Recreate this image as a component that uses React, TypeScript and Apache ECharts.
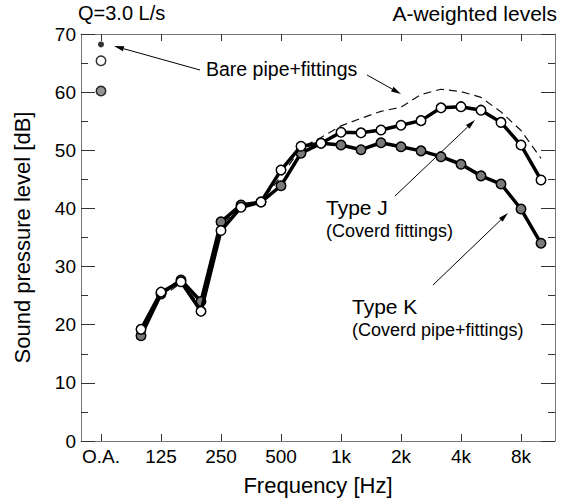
import React, { useEffect, useRef } from "react";
import * as echarts from "echarts";

// Frequency slots along the x axis (O.A. first, then 1/3-octave bands)
const bands = ["O.A.", "80", "100", "125", "160", "200", "250", "315", "400", "500", "630", "800", "1k", "1.25k", "1.6k", "2k", "2.5k", "3.15k", "4k", "5k", "6.3k", "8k", "10k"];
const spectrumBands = ["100", "125", "160", "200", "250", "315", "400", "500", "630", "800", "1k", "1.25k", "1.6k", "2k", "2.5k", "3.15k", "4k", "5k", "6.3k", "8k", "10k"];
const tickLabels = ["O.A.", "125", "250", "500", "1k", "2k", "4k", "8k"];

// Overall (O.A.) A-weighted levels [dB]
const oaBare = 68.2;
const oaTypeJ = 65.4;
const oaTypeK = 60.2;

// 1/3-octave band levels [dB]
const bareValues = [18.8, 24.7, 27.2, 23.2, 37.0, 40.5, 41.1, 45.5, 50.4, 52.2, 54.2, 55.5, 56.7, 57.4, 59.6, 60.5, 60.1, 59.1, 56.6, 53.4, 48.6];
const typeJValues = [19.2, 25.6, 27.4, 22.3, 36.2, 40.2, 41.1, 46.6, 50.7, 51.2, 53.1, 53.0, 53.5, 54.3, 55.1, 57.3, 57.5, 56.9, 54.8, 50.9, 44.9];
const typeKValues = [18.1, 25.3, 27.7, 24.0, 37.7, 40.6, 41.1, 43.9, 49.5, 51.2, 50.9, 50.1, 51.3, 50.6, 49.9, 48.9, 47.6, 45.6, 44.2, 39.9, 34.0];

const FONT = "'Liberation Sans', Arial, Helvetica, sans-serif";

function pairs(values: number[]) {
  return values.map((v, i) => [bands.indexOf(spectrumBands[i]), v]);
}

function arrow(x1: number, y1: number, x2: number, y2: number) {
  const a = Math.atan2(y2 - y1, x2 - x1);
  const L = 10;
  const W = 2.6;
  const bx = x2 - L * Math.cos(a);
  const by = y2 - L * Math.sin(a);
  return [
    { type: "line", shape: { x1, y1, x2: bx, y2: by }, style: { stroke: "#000", lineWidth: 1 }, silent: true },
    {
      type: "polygon",
      shape: { points: [[x2, y2], [bx - W * Math.sin(a), by + W * Math.cos(a)], [bx + W * Math.sin(a), by - W * Math.cos(a)]] },
      style: { fill: "#000" },
      silent: true,
    },
  ];
}

function label(text: string, x: number, y: number, size: number, align = "left") {
  return {
    type: "text",
    x,
    y,
    silent: true,
    style: { text, fontSize: size, fontFamily: FONT, fill: "#000", align, verticalAlign: "middle" },
  };
}

export default function App() {
  const ref = useRef<HTMLDivElement>(null);
  useEffect(() => {
    if (!ref.current) return;
    const chart = echarts.init(ref.current, null, { renderer: "svg" });
    const tickPos = tickLabels.map((t) => bands.indexOf(t));
    const xCommon = {
      type: "value",
      min: -1,
      max: 22.7,
      splitLine: { show: false },
      axisLine: { show: true, onZero: false, lineStyle: { color: "#777", width: 1 } },
      axisTick: { show: true, inside: true, length: 7, customValues: tickPos, lineStyle: { color: "#333" } },
    };
    const yCommon = {
      type: "value",
      min: 0,
      max: 70,
      interval: 10,
      splitLine: { show: false },
      axisLine: { show: true, onZero: false, lineStyle: { color: "#777", width: 1 } },
      axisTick: { show: true, inside: true, length: 14, lineStyle: { color: "#333" } },
      minorTick: { show: true, splitNumber: 2, length: 7, lineStyle: { color: "#333" } },
    };
    const option: any = {
      animation: false,
      backgroundColor: "#fff",
      grid: { left: 81, right: 8, top: 34, bottom: 61, containLabel: false },
      xAxis: [
        {
          ...xCommon,
          position: "bottom",
          name: "Frequency [Hz]",
          nameLocation: "middle",
          nameGap: 33,
          nameTextStyle: { fontSize: 22, fontFamily: FONT, color: "#000" },
          axisLabel: {
            show: true,
            customValues: tickPos,
            margin: 6,
            fontSize: 19,
            fontFamily: FONT,
            color: "#000",
            formatter: (v: number) => bands[Math.round(v)],
          },
        },
        { ...xCommon, position: "top", axisLabel: { show: false } },
      ],
      yAxis: [
        {
          ...yCommon,
          position: "left",
          name: "Sound pressure level [dB]",
          nameLocation: "middle",
          nameGap: 48,
          nameTextStyle: { fontSize: 22, fontFamily: FONT, color: "#000" },
          axisLabel: { show: true, margin: 5, fontSize: 19, fontFamily: FONT, color: "#000" },
        },
        { ...yCommon, position: "right", axisLabel: { show: false } },
      ],
      series: [
        {
          name: "Bare pipe+fittings",
          type: "line",
          data: pairs(bareValues),
          showSymbol: false,
          symbol: "none",
          lineStyle: { color: "#111", width: 1.2, type: [8, 5] },
          z: 2,
        },
        {
          name: "Type K",
          type: "line",
          data: pairs(typeKValues),
          symbol: "circle",
          symbolSize: 9.5,
          lineStyle: { color: "#000", width: 3.5 },
          itemStyle: { color: "#7a7a7a", borderColor: "#000", borderWidth: 1.5 },
          z: 3,
        },
        {
          name: "Type J",
          type: "line",
          data: pairs(typeJValues),
          symbol: "circle",
          symbolSize: 9.5,
          lineStyle: { color: "#000", width: 3.5 },
          itemStyle: { color: "#fff", borderColor: "#000", borderWidth: 1.5 },
          z: 4,
        },
        {
          name: "O.A. bare",
          type: "scatter",
          data: [[bands.indexOf("O.A."), oaBare]],
          symbol: "circle",
          symbolSize: 6,
          itemStyle: { color: "#000" },
          z: 5,
        },
        {
          name: "O.A. Type J",
          type: "scatter",
          data: [[bands.indexOf("O.A."), oaTypeJ]],
          symbol: "circle",
          symbolSize: 9.5,
          itemStyle: { color: "#fff", borderColor: "#000", borderWidth: 1.5 },
          z: 5,
        },
        {
          name: "O.A. Type K",
          type: "scatter",
          data: [[bands.indexOf("O.A."), oaTypeK]],
          symbol: "circle",
          symbolSize: 9.5,
          itemStyle: { color: "#7a7a7a", borderColor: "#000", borderWidth: 1.5 },
          z: 5,
        },
      ],
      graphic: [
        label("Q=3.0 L/s", 78, 13, 20),
        label("A-weighted levels", 557, 13, 21, "right"),
        label("Bare pipe+fittings", 206, 69, 19.5),
        label("Type J", 326, 207, 21),
        label("(Coverd fittings)", 326, 231, 18),
        label("Type K", 352, 306, 21),
        label("(Coverd pipe+fittings)", 352, 330, 18),
        ...arrow(200, 70, 114, 46),
        ...arrow(367, 75, 401, 94),
        ...arrow(395, 196, 475, 120),
        ...arrow(433, 285, 508, 213),
      ],
    };
    chart.setOption(option);
    return () => chart.dispose();
  }, []);
  return <div ref={ref} style={{ position: "fixed", left: 0, top: 0, width: 563, height: 502, background: "#fff" }} />;
}
